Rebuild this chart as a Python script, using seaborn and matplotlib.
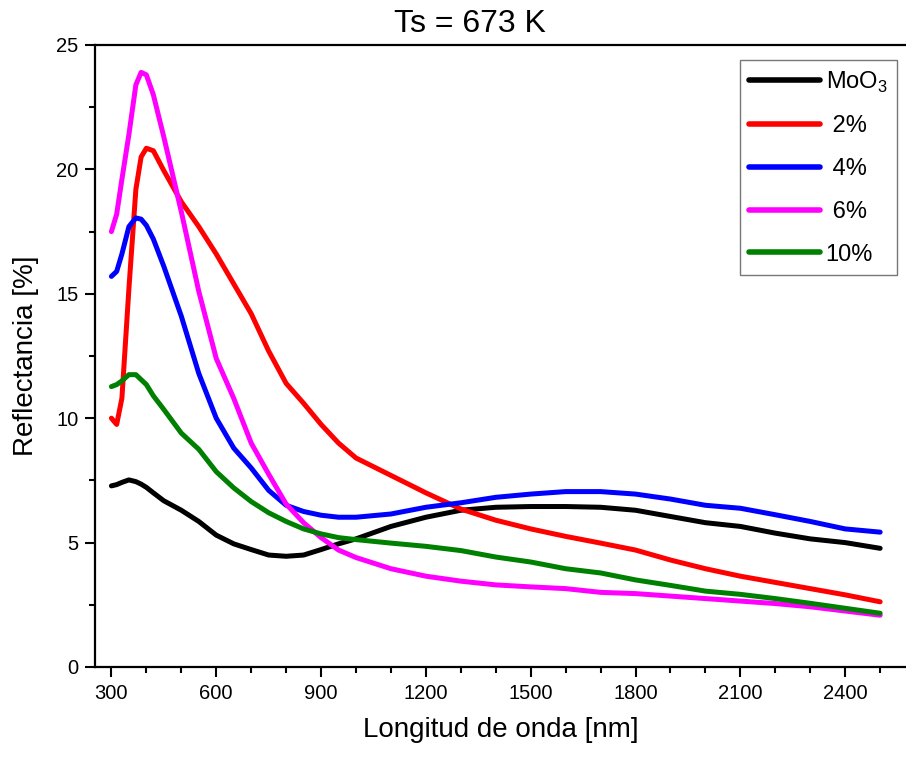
import numpy as np
import pandas as pd
import matplotlib
matplotlib.use("Agg")
import matplotlib.pyplot as plt
import seaborn as sns
from matplotlib.ticker import MultipleLocator

# ---- data ----
wavelength = [300, 315, 330, 350, 370, 385, 400, 420, 450, 500, 550, 600, 650, 700,
              750, 800, 850, 900, 950, 1000, 1100, 1200, 1300, 1400, 1500, 1600,
              1700, 1800, 1900, 2000, 2100, 2200, 2300, 2400, 2500]

moo3 = [7.28, 7.33, 7.42, 7.52, 7.45, 7.35, 7.22, 7.0, 6.68, 6.3, 5.85, 5.3, 4.95, 4.72,
        4.5, 4.45, 4.5, 4.72, 4.95, 5.15, 5.65, 6.02, 6.3, 6.42, 6.45, 6.45,
        6.42, 6.3, 6.05, 5.8, 5.65, 5.38, 5.15, 5.0, 4.77]

pct2 = [10.0, 9.75, 10.8, 15.2, 19.2, 20.5, 20.85, 20.75, 19.95, 18.7, 17.7, 16.6, 15.4, 14.2,
        12.7, 11.4, 10.6, 9.75, 9.0, 8.4, 7.7, 7.0, 6.35, 5.9, 5.55, 5.25,
        4.98, 4.7, 4.3, 3.95, 3.65, 3.4, 3.15, 2.9, 2.62]

pct4 = [15.7, 15.9, 16.6, 17.7, 18.05, 18.0, 17.75, 17.2, 16.1, 14.1, 11.8, 10.0, 8.8, 8.0,
        7.1, 6.5, 6.25, 6.1, 6.02, 6.02, 6.15, 6.42, 6.6, 6.82, 6.95, 7.05,
        7.05, 6.95, 6.75, 6.5, 6.38, 6.12, 5.85, 5.55, 5.42]

pct6 = [17.5, 18.2, 19.6, 21.4, 23.4, 23.9, 23.8, 23.0, 21.3, 18.3, 15.1, 12.4, 10.8, 9.0,
        7.75, 6.55, 5.8, 5.2, 4.7, 4.4, 3.95, 3.65, 3.45, 3.3, 3.22, 3.15,
        3.0, 2.95, 2.85, 2.75, 2.65, 2.55, 2.42, 2.25, 2.08]

pct10 = [11.27, 11.35, 11.5, 11.75, 11.75, 11.55, 11.35, 10.9, 10.35, 9.4, 8.75, 7.85, 7.2, 6.65,
         6.2, 5.85, 5.55, 5.35, 5.2, 5.12, 4.98, 4.85, 4.68, 4.42, 4.22, 3.95,
         3.78, 3.5, 3.28, 3.05, 2.92, 2.75, 2.56, 2.36, 2.16]

series_labels = ["MoO$_\\mathregular{3}$", " 2%", " 4%", " 6%", "10%"]
series_values = [moo3, pct2, pct4, pct6, pct10]
series_colors = ["#000000", "#FF0000", "#0000FF", "#FF00FF", "#008000"]

x_ticks = [300, 600, 900, 1200, 1500, 1800, 2100, 2400]
y_ticks = [0, 5, 10, 15, 20, 25]

title_text = "Ts = 673 K"
x_label = "Longitud de onda [nm]"
y_label = "Reflectancia [%]"

# ---- build long table ----
frames = []
for lab, vals in zip(series_labels, series_values):
    frames.append(pd.DataFrame({"wl": wavelength, "R": vals, "s": lab}))
df = pd.concat(frames, ignore_index=True)

sns.set_theme(style="ticks")
plt.rcParams["font.family"] = ["Liberation Sans", "DejaVu Sans"]
plt.rcParams["mathtext.fontset"] = "custom"
plt.rcParams["mathtext.rm"] = "Liberation Sans"
plt.rcParams["text.color"] = "black"
plt.rcParams["axes.labelcolor"] = "black"
plt.rcParams["xtick.color"] = "black"
plt.rcParams["ytick.color"] = "black"

fig = plt.figure(figsize=(9.06, 7.59), dpi=100)
ax = fig.add_axes([95 / 906, 1 - 667 / 759, 1 - 95 / 906, (667 - 45) / 759])

sns.lineplot(data=df, x="wl", y="R", hue="s", hue_order=series_labels,
             palette=dict(zip(series_labels, series_colors)),
             estimator=None, sort=False, lw=3.6, ax=ax)

ax.set_xlim(253, 2574)
ax.set_ylim(0, 25)
ax.set_xticks(x_ticks)
ax.set_yticks(y_ticks)
ax.xaxis.set_minor_locator(MultipleLocator(100))
ax.yaxis.set_minor_locator(MultipleLocator(2.5))
ax.tick_params(axis="both", which="major", direction="out", length=7, width=1.5,
               labelsize=14.5, colors="black", pad=5)
ax.tick_params(axis="both", which="minor", direction="out", length=4, width=1.5)
ax.tick_params(top=False, right=False)

for side in ["left", "bottom", "top"]:
    ax.spines[side].set_linewidth(1.6)
    ax.spines[side].set_color("black")
ax.spines["right"].set_visible(False)

ax.set_xlabel(x_label, fontsize=20, labelpad=10, color="black")
ax.set_ylabel(y_label, fontsize=20, labelpad=12, color="black")
fig.text(470 / 906, 1 - 24 / 759, title_text, fontsize=23, ha="center", va="center",
         color="black")

leg = ax.legend(loc="upper right", bbox_to_anchor=((897 - 95) / 811, (667 - 60) / 622),
                fontsize=17, frameon=True, fancybox=False, handlelength=3.0,
                handletextpad=0.25, labelspacing=0.88, borderpad=0.4, borderaxespad=0)
leg.get_frame().set_edgecolor("#555555")
leg.get_frame().set_linewidth(1.0)
for t in leg.get_texts():
    t.set_color("black")
for h in leg.get_lines():
    h.set_linewidth(4)
    h.set_solid_capstyle("round")

fig.savefig("out.png", dpi=100)
